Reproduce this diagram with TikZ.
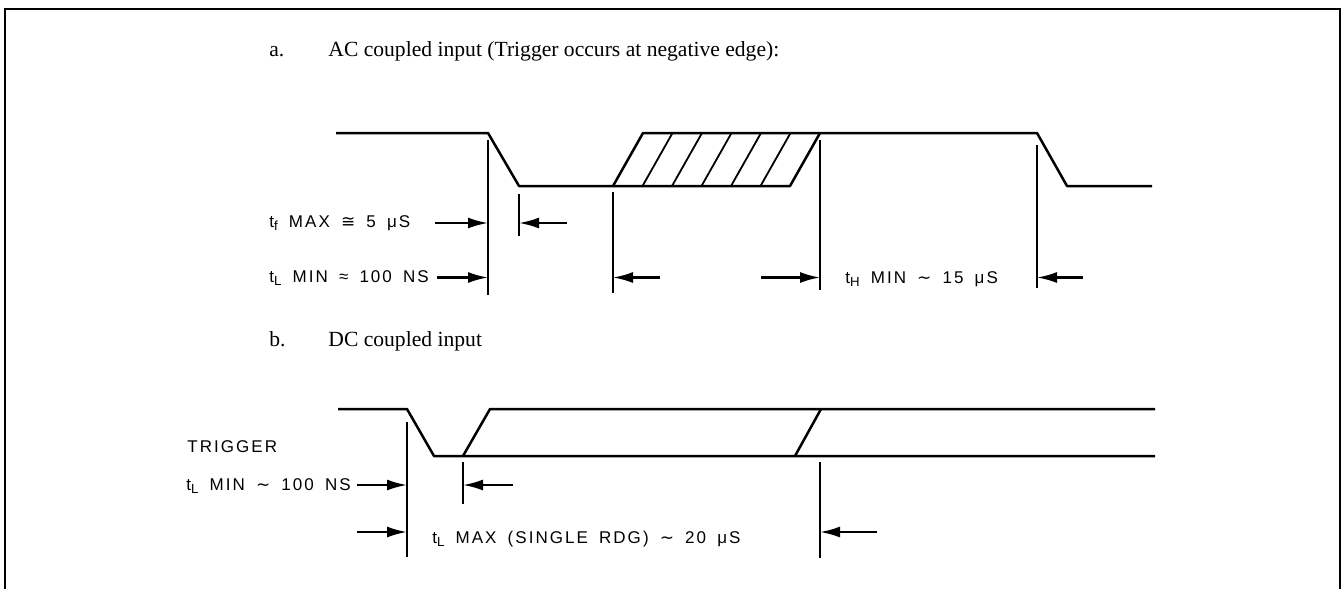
\documentclass[tikz,border=0pt]{standalone}
\usepackage{fontspec}
\setmainfont{Liberation Serif}
\newfontfamily\lblfont{Liberation Sans}[LetterSpace=12, WordSpace=1.65]
\newfontfamily\symfont{DejaVu Sans}
\newcommand\tsub[1]{\raisebox{-1.6pt}{\fontsize{6.6}{7}\selectfont #1}}
\usetikzlibrary{arrows.meta}

\begin{document}
\begin{tikzpicture}[x=0.5pt, y=-0.5pt,
  wave/.style={line width=1.25pt, line join=round},
  hatch/.style={line width=0.9pt},
  guide/.style={line width=0.85pt},
  dim/.style={-{Latex[length=10pt, width=5.5pt]}, line width=1.1pt},
  lbl/.style={anchor=base west, inner sep=0pt, font=\lblfont\fontsize{8.5}{10}\selectfont},
  title/.style={anchor=base west, inner sep=0pt, font=\fontsize{10.8}{13}\selectfont}
]
\useasboundingbox (0,0) rectangle (1342,589);
\draw[line width=1pt] (5,589) -- (5,9) -- (1340,9) -- (1340,589);

% a. AC coupled
\node[title] (aitem) at (269,56) {a.};
\node[title] (atitle) at (328,56) {AC coupled input (Trigger occurs at negative edge):};

\draw[wave] (336,133) -- (488,133) -- (519,186) -- (613,186) -- (643,133) -- (1037,133) -- (1067,186) -- (1152,186);
\draw[wave] (613,186) -- (790,186) -- (820,133);
\foreach \k in {1,...,5}
  \draw[hatch] ({613+29.5*\k},186) -- ({643+29.5*\k},133);

\draw[guide] (488,140) -- (488,295);
\draw[guide] (519,194) -- (519,236);
\draw[guide] (613,192) -- (613,293);
\draw[guide] (820,140) -- (820,290);
\draw[guide] (1037,145) -- (1037,288);

\node[lbl] (tfmax) at (269,227) {t\tsub{f} MAX {\symfont ≅} 5 μS};
\node[lbl] (tlmin) at (269,282) {t\tsub{L} MIN ≈ 100 NS};
\node[lbl] (thmin) at (845,283) {t\tsub{H} MIN {\symfont ∼} 15 μS};

\coordinate (fall1) at (488,223);   \coordinate (fall1t) at (435,223);
\coordinate (low1)  at (519,223);   \coordinate (low1t)  at (567,223);
\coordinate (fall2) at (488,277.5); \coordinate (fall2t) at (437,277.5);
\coordinate (rise1) at (613,277.5); \coordinate (rise1t) at (660,277.5);
\coordinate (rise2) at (820,277.5); \coordinate (rise2t) at (761,277.5);
\coordinate (fall3) at (1037,277.5); \coordinate (fall3t) at (1083,277.5);

\draw[dim] (fall1t) -- (fall1);
\draw[dim] (low1t) -- (low1);
\draw[dim] (fall2t) -- (fall2);
\draw[dim] (rise1t) -- (rise1);
\draw[dim] (rise2t) -- (rise2);
\draw[dim] (fall3t) -- (fall3);

% b. DC coupled
\node[title] (bitem) at (269,346) {b.};
\node[title] (btitle) at (328,346) {DC coupled input};

\draw[wave] (338,409) -- (407,409) -- (434,456) -- (1155,456);
\draw[wave] (463,456) -- (490,409) -- (1155,409);
\draw[wave] (795,456) -- (821,409);

\draw[guide] (407,422) -- (407,557);
\draw[guide] (463,462) -- (463,504);
\draw[guide] (820,462) -- (820,558);

\node[lbl] (trig) at (187,452) {TRIGGER};
\node[lbl] (tlminb) at (186,490) {t\tsub{L} MIN {\symfont ∼} 100 NS};
\node[lbl] (tlmax) at (432,543) {t\tsub{L} MAX (SINGLE RDG) {\symfont ∼} 20 μS};

\coordinate (trg)  at (407,485); \coordinate (trgt)  at (357,485);
\coordinate (rdy)  at (463,485); \coordinate (rdyt)  at (513,485);
\coordinate (trg2) at (407,532); \coordinate (trg2t) at (357,532);
\coordinate (rdg)  at (820,532); \coordinate (rdgt)  at (877,532);

\draw[dim] (trgt) -- (trg);
\draw[dim] (rdyt) -- (rdy);
\draw[dim] (trg2t) -- (trg2);
\draw[dim] (rdgt) -- (rdg);
\end{tikzpicture}
\end{document}
